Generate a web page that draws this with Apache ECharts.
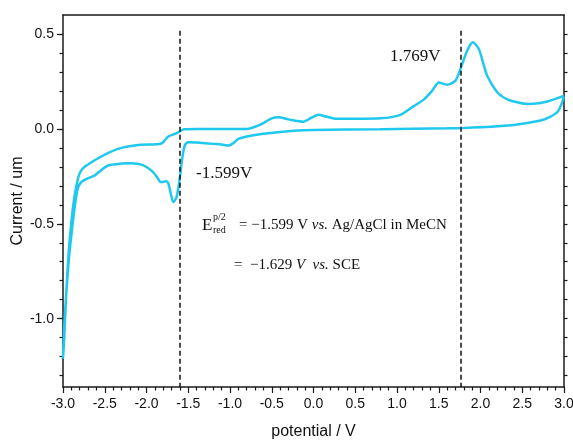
<!DOCTYPE html>
<html>
<head>
<meta charset="utf-8">
<script src="https://cdn.jsdelivr.net/npm/echarts@6/dist/echarts.min.js"></script>
<style>
  html, body { margin: 0; padding: 0; background: #fff; }
  #chart { width: 573px; height: 441px; }
</style>
</head>
<body>
<div id="chart"></div>
<script>
// reverse scan (3.0 V -> -3.0 V), lower branch
var reverseX = [3.0, 2.96, 2.92, 2.82, 2.72, 2.4, 2.0, 1.6, 0.8, 0.0, -0.2, -0.6, -0.8, -0.9, -0.96, -1.02, -1.1, -1.2, -1.4, -1.5, -1.54, -1.57, -1.6, -1.64, -1.68, -1.71, -1.74, -1.77, -1.8, -1.83, -1.88, -1.94, -2.05, -2.18, -2.3, -2.46, -2.55, -2.62, -2.7, -2.78, -2.82, -2.85, -2.9, -2.94, -2.98, -3.0];
var reverseY = [0.17, 0.12, 0.088, 0.06, 0.044, 0.021, 0.009, 0.003, -0.002, -0.006, -0.009, -0.026, -0.04, -0.053, -0.075, -0.088, -0.082, -0.079, -0.072, -0.07, -0.085, -0.15, -0.255, -0.36, -0.386, -0.34, -0.285, -0.276, -0.28, -0.28, -0.25, -0.22, -0.19, -0.181, -0.183, -0.193, -0.22, -0.245, -0.26, -0.28, -0.31, -0.38, -0.56, -0.74, -1.0, -1.21];
// forward scan (-3.0 V -> 3.0 V), upper branch
var forwardX = [-2.985, -2.965, -2.93, -2.89, -2.86, -2.82, -2.79, -2.74, -2.6, -2.45, -2.3, -2.1, -1.85, -1.8, -1.74, -1.65, -1.6, -1.55, -1.4, -0.8, -0.65, -0.5, -0.42, -0.3, -0.12, -0.02, 0.06, 0.15, 0.28, 0.8, 1.04, 1.2, 1.32, 1.42, 1.5, 1.55, 1.6, 1.7, 1.76, 1.84, 1.91, 1.98, 2.03, 2.08, 2.2, 2.3, 2.4, 2.56, 2.7, 2.8, 2.9, 3.0];
var forwardY = [-1.1, -0.9, -0.64, -0.45, -0.35, -0.26, -0.225, -0.2, -0.16, -0.125, -0.1, -0.085, -0.08, -0.07, -0.04, -0.025, -0.013, -0.002, 0.0, 0.0, 0.02, 0.055, 0.061, 0.05, 0.038, 0.06, 0.074, 0.065, 0.053, 0.056, 0.074, 0.12, 0.154, 0.2, 0.245, 0.238, 0.233, 0.254, 0.316, 0.412, 0.456, 0.421, 0.35, 0.28, 0.193, 0.16, 0.144, 0.131, 0.135, 0.144, 0.158, 0.175];

var peakPotentials = [-1.599, 1.769];
var yMajorTicks = [-1.0, -0.5, 0.0, 0.5];
var yMinorTicks = [-1.3, -1.2, -1.1, -1.0, -0.9, -0.8, -0.7, -0.6, -0.5, -0.4, -0.3, -0.2, -0.1, 0.0, 0.1, 0.2, 0.3, 0.4, 0.5];

var yMin = -1.36, yMax = 0.6;
var dashTop = 0.517;

var loop = [];
reverseX.forEach(function (x, i) { loop.push([x, reverseY[i]]); });
forwardX.forEach(function (x, i) { loop.push([x, forwardY[i]]); });

var axisColor = '#1a1a1a';
var labelFont = 'Liberation Sans, Arial, sans-serif';
var serif = 'Liberation Serif, Times New Roman, serif';
var italicRich = { i: { fontStyle: 'italic', fontFamily: serif, fontSize: 15, fill: '#111' } };

var myChart = echarts.init(document.getElementById('chart'));

var option = {
    animation: false,
    backgroundColor: '#fff',
    grid: { left: 63, right: 9, top: 15, bottom: 54, containLabel: false, outerBoundsMode: 'none' },
    xAxis: [{
        type: 'value', min: -3, max: 3, interval: 0.5,
        name: 'potential / V', nameLocation: 'middle', nameGap: 37, nameMoveOverlap: false,
        nameTextStyle: { fontFamily: labelFont, fontSize: 16, color: '#111' },
        axisLine: { onZero: false, lineStyle: { color: axisColor, width: 1.5 } },
        axisTick: { inside: false, length: 6, lineStyle: { color: axisColor, width: 1.2 } },
        minorTick: { show: true, splitNumber: 5, length: 3.5, lineStyle: { color: axisColor, width: 1.2 } },
        axisLabel: {
            margin: 10, fontFamily: labelFont, fontSize: 14, color: '#111',
            formatter: function (v) { return v.toFixed(1); }
        },
        splitLine: { show: false }
    }, {
        type: 'value', min: -3, max: 3, position: 'top',
        axisLine: { show: true, onZero: false, lineStyle: { color: axisColor, width: 1.5 } },
        axisTick: { show: false }, axisLabel: { show: false }, splitLine: { show: false }
    }],
    yAxis: [{
        type: 'value', min: yMin, max: yMax,
        name: 'Current / um', nameLocation: 'middle', nameGap: 37, nameMoveOverlap: false,
        nameTextStyle: { fontFamily: labelFont, fontSize: 16, color: '#111' },
        axisLine: { show: true, onZero: false, lineStyle: { color: axisColor, width: 1.5 } },
        axisTick: { show: true, length: 6, customValues: yMajorTicks, lineStyle: { color: axisColor, width: 1.2 } },
        axisLabel: {
            margin: 9, fontFamily: labelFont, fontSize: 14, color: '#111',
            customValues: yMajorTicks,
            formatter: function (v) { return v.toFixed(1); }
        },
        splitLine: { show: false }
    }, {
        type: 'value', min: yMin, max: yMax, position: 'left',
        axisLine: { show: false, onZero: false },
        axisTick: { show: true, length: 3.5, customValues: yMinorTicks, lineStyle: { color: axisColor, width: 1.2 } },
        axisLabel: { show: false }, splitLine: { show: false }
    }, {
        type: 'value', min: yMin, max: yMax, position: 'right',
        axisLine: { show: true, onZero: false, lineStyle: { color: axisColor, width: 1.5 } },
        axisTick: { show: true, length: 3.5, customValues: yMinorTicks, lineStyle: { color: axisColor, width: 1.2 } },
        axisLabel: { show: false }, splitLine: { show: false }
    }],
    series: [{
        type: 'line',
        data: loop,
        showSymbol: false,
        smooth: 0.25,
        lineStyle: { color: '#1ec8ee', width: 2.5 },
        markLine: {
            silent: true,
            symbol: 'none',
            label: { show: false },
            lineStyle: { color: '#111', type: [5, 3], width: 1.5 },
            data: peakPotentials.map(function (p) {
                return [{ coord: [p, dashTop] }, { coord: [p, yMin] }];
            })
        }
    }],
    graphic: [
        { type: 'text', left: 390, top: 48, style: { text: '1.769V', font: '17px ' + serif, fill: '#111' } },
        { type: 'text', left: 196, top: 165, style: { text: '-1.599V', font: '17px ' + serif, fill: '#111' } },
        { type: 'text', left: 202, top: 217, style: { text: 'E', font: '17px ' + serif, fill: '#111' } },
        { type: 'text', left: 213, top: 212, style: { text: 'p/2', font: '10px ' + serif, fill: '#111' } },
        { type: 'text', left: 213, top: 225, style: { text: 'red', font: '10px ' + serif, fill: '#111' } },
        {
            type: 'text', left: 239, top: 218,
            style: { text: '= −1.599 V {i|vs.} Ag/AgCl in MeCN', font: '15px ' + serif, fill: '#111', rich: italicRich }
        },
        {
            type: 'text', left: 234, top: 258,
            style: { text: '=  −1.629 {i|V  vs.} SCE', font: '15px ' + serif, fill: '#111', rich: italicRich }
        }
    ]
};

myChart.setOption(option);
</script>
</body>
</html>
